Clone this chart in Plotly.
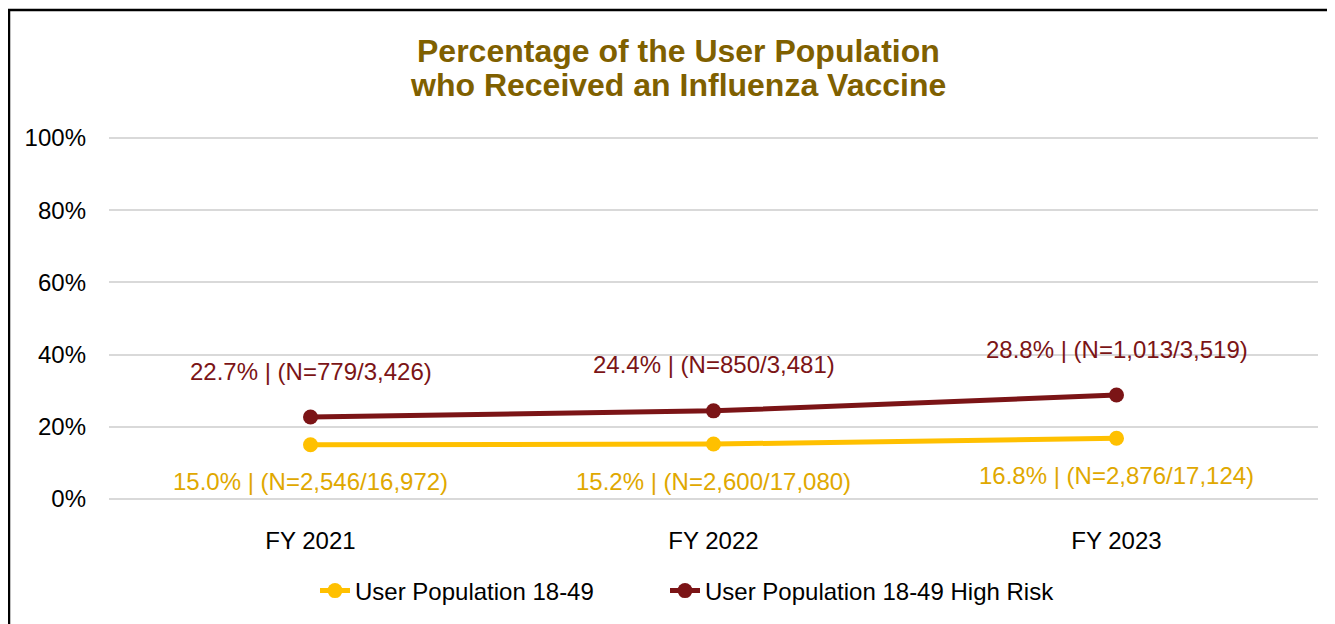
"""Influenza vaccine uptake among the user population."""

import plotly.graph_objects as go


FONT = "Arial, Liberation Sans, sans-serif"
W, H = 1335, 624

years = ["FY 2021", "FY 2022", "FY 2023"]
pct_all = [0.150, 0.152, 0.168]
n_all = ["2,546/16,972", "2,600/17,080", "2,876/17,124"]
pct_risk = [0.227, 0.244, 0.288]
n_risk = ["779/3,426", "850/3,481", "1,013/3,519"]
title_lines = ["Percentage of the User Population",
               "who Received an Influenza Vaccine"]

YELLOW = "#FFC000"
YELLOW_TXT = "#E0A800"
MAROON = "#7B1416"
TITLE_CLR = "#7F6000"


def main():
    """Main driver."""
    l, r, t, b = 101, 25, 129, 132
    pw, ph = W - l - r, H - t - b

    fig = go.Figure()
    fig.add_trace(go.Scatter(
        x=years, y=pct_all, name="User Population 18-49",
        mode="lines+markers", line=dict(color=YELLOW, width=5),
        marker=dict(size=15, color=YELLOW), legend="legend"))
    fig.add_trace(go.Scatter(
        x=years, y=pct_risk, name="User Population 18-49 High Risk",
        mode="lines+markers", line=dict(color=MAROON, width=5),
        marker=dict(size=15, color=MAROON), legend="legend2"))

    # data labels, as in the source workbook
    for yr, p, n in zip(years, pct_risk, n_risk):
        fig.add_annotation(x=yr, y=p, text=f"{p * 100:.1f}% | (N={n})",
                           showarrow=False, yshift=46,
                           font=dict(color=MAROON, size=24, family=FONT))
    for yr, p, n in zip(years, pct_all, n_all):
        fig.add_annotation(x=yr, y=p, text=f"{p * 100:.1f}% | (N={n})",
                           showarrow=False, yshift=-37,
                           font=dict(color=YELLOW_TXT, size=24, family=FONT))

    # two-line title, tighter line spacing than plotly's title allows
    for txt, ypx in zip(title_lines, [43, 77]):
        fig.add_annotation(xref="paper", yref="paper",
                           x=(670 - l) / pw, y=(H - b - ypx) / ph,
                           xanchor="center", yanchor="middle",
                           text=f"<b>{txt}</b>", showarrow=False,
                           font=dict(size=32, color=TITLE_CLR, family=FONT))

    # chart border (left and top edges visible)
    fig.add_shape(type="rect", xref="paper", yref="paper",
                  x0=(1 - l) / pw, x1=(W + 20 - l) / pw,
                  y0=(H - b - H - 20) / ph, y1=(H - b - 2) / ph,
                  line=dict(color="black", width=2.5))

    leg = dict(orientation="h", xanchor="left", yanchor="middle",
               y=(H - b - 583) / ph, font=dict(size=24))
    fig.update_layout(
        width=W, height=H,
        margin=dict(l=l, r=r, t=t, b=b),
        paper_bgcolor="white", plot_bgcolor="white",
        font=dict(family=FONT, size=24, color="black"),
        legend=dict(leg, x=(307 - l) / pw),
        legend2=dict(leg, x=(657 - l) / pw),
        showlegend=True,
    )
    fig.update_xaxes(range=[-0.5, 2.5], showgrid=False, showline=False,
                     zeroline=False, ticks="", ticklabelstandoff=24)
    fig.update_yaxes(range=[-0.003, 1.003], tickvals=[0, 0.2, 0.4, 0.6, 0.8, 1],
                     tickformat=".0%",
                     gridcolor="#D9D9D9", gridwidth=1.5, zeroline=False,
                     showline=False, ticks="", ticklabelstandoff=22)

    fig.write_html("out.html")


if __name__ == "__main__":
    main()
